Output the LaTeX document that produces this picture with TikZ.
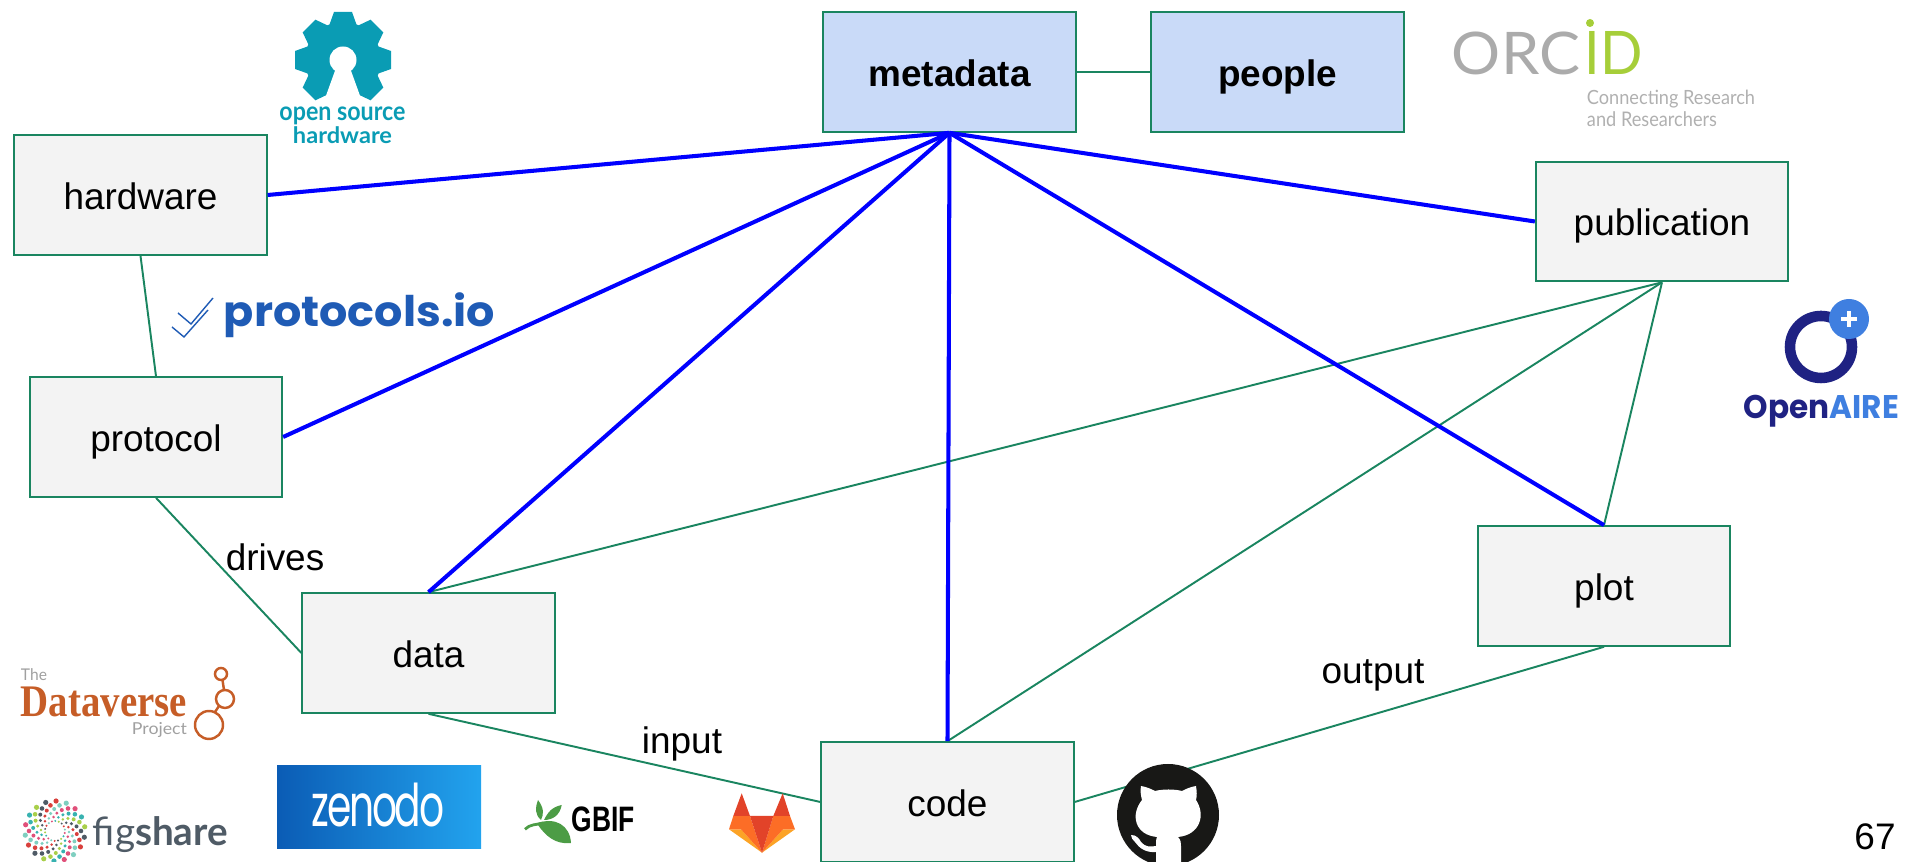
\documentclass[tikz,border=0pt]{standalone}
\usepackage{fontspec}
\usepackage{graphicx}
\setmainfont{Liberation Sans}
\newfontfamily\latof{Lato}
\newfontfamily\popf{Poppins}
\newfontfamily\serf{Liberation Serif}
\usetikzlibrary{shadings}
\newcommand{\lt}[3]{\resizebox*{\dimexpr #1cm/100\relax}{\dimexpr #2cm/100\relax}{#3}}
\definecolor{boxgreen}{HTML}{1A8560}
\definecolor{boxfill}{HTML}{F3F3F3}
\definecolor{metafill}{HTML}{C9DAF8}
\definecolor{linkblue}{HTML}{0000FF}
\definecolor{osh}{HTML}{0A9CB4}
\definecolor{proto}{HTML}{1F5BB5}
\definecolor{orcgray}{HTML}{ABABAB}
\definecolor{orcgreen}{HTML}{A6CE39}
\definecolor{orctext}{HTML}{B0B0B0}
\definecolor{navy}{HTML}{1F2283}
\definecolor{airblue}{HTML}{3F7FE0}
\definecolor{dvorange}{HTML}{C65D27}
\definecolor{dvgray}{HTML}{A0A0A0}
\definecolor{figgray}{HTML}{4F5B66}
\definecolor{fig0}{HTML}{E0507A}
\definecolor{fig1}{HTML}{38B2B0}
\definecolor{fig2}{HTML}{A8CF4A}
\definecolor{fig3}{HTML}{4F5B66}
\definecolor{fig4}{HTML}{D8403C}
\definecolor{fig5}{HTML}{7FCFC0}
\definecolor{gbifgreen}{HTML}{4C9C45}
\definecolor{glred}{HTML}{E24329}
\definecolor{glor}{HTML}{FC6D26}
\definecolor{glyel}{HTML}{FCA326}
\definecolor{ghblack}{HTML}{181816}
\definecolor{zenl}{HTML}{0B5CB5}
\definecolor{zenr}{HTML}{22A3EE}
\tikzset{
  box/.style={draw=boxgreen,line width=0.6pt,fill=boxfill,minimum width=2.52cm,minimum height=1.195cm,inner sep=0pt,text height=0.95em,text depth=0.15em,font=\fontsize{10.5}{12}\selectfont},
  metabox/.style={box,fill=metafill,font=\fontsize{10.5}{12}\selectfont\bfseries},
  thin link/.style={draw=boxgreen,line width=0.55pt},
  thick link/.style={draw=linkblue,line width=1.15pt},
  lab/.style={inner sep=0pt,font=\fontsize{10.5}{12}\selectfont},
  logo/.style={inner sep=0pt,outer sep=0pt}
}
\begin{document}
\begin{tikzpicture}[x=0.01cm,y=-0.01cm]
\useasboundingbox (0,0) rectangle (1905,862);
% boxes
\node[box] (hardware) at (140.5,195) {hardware};
\node[box] (protocol) at (156,437) {protocol};
\node[box] (data) at (428.5,653) {data};
\node[box] (code) at (947.5,802) {code};
\node[box] (plot) at (1604,586) {plot};
\node[box] (publication) at (1662,221.5) {publication};
\node[metabox] (metadata) at (949.5,72) {metadata};
\node[metabox] (people) at (1277.5,72) {people};
% green links
\draw[thin link] (metadata.east) -- (people.west);
\draw[thin link] (hardware.south) -- (protocol.north);
\draw[thin link] (protocol.south) -- (data.west);
\draw[thin link] (data.north) -- (publication.south);
\draw[thin link] (code.north) -- (publication.south);
\draw[thin link] (plot.north) -- (publication.south);
\draw[thin link] (data.south) -- (code.west);
\draw[thin link] (code.east) -- (plot.south);
% blue links
\draw[thick link] (metadata.south) -- (hardware.east);
\draw[thick link] (metadata.south) -- (protocol.east);
\draw[thick link] (metadata.south) -- (data.north);
\draw[thick link] (metadata.south) -- (code.north);
\draw[thick link] (metadata.south) -- (publication.west);
\draw[thick link] (metadata.south) -- (plot.north);
% labels
\node[lab] (drives) at (275,557) {drives};
\node[lab] (input) at (682,743.5) {input};
\node[lab] (output) at (1373,675.5) {output};
\node[lab] (pagenum) at (1875,837) {67};
% open source hardware
\foreach \a in {0,45,90,135,180,225,315}
  \fill[osh,rotate around={\a:(343,60)}] (377,46) -- (391,51) -- (391,69) -- (377,74) -- cycle;
\fill[osh] (343,60) circle (38);
\fill[white] (343,60) circle (13.5);
\fill[white] (336,68) -- (350,68) -- (363,104) -- (323,104) -- cycle;
\node[logo,text=osh] (osha) at (342.5,116) {\lt{126}{18}{\latof\bfseries open source}};
\node[logo,text=osh] (oshb) at (342.5,135) {\lt{99}{17}{\latof\bfseries hardware}};
% protocols.io
\node[logo,text=proto] (proto) at (359.5,315.5) {\lt{271}{45}{\popf\bfseries protocols.io}};
\draw[proto,line width=0.4pt] (178,313) -- (191,324) -- (213,298);
\draw[proto,line width=0.4pt] (172,327) -- (184,337) -- (208,310);
% ORCID
\node[logo,text=orcgray] (orc) at (1516,53.5) {\lt{128}{43}{\latof ORC}};
\node[logo,text=orcgreen] (orid) at (1614,53.5) {\lt{58}{43}{\latof ID}};
\fill[orcgreen] (1590,23) circle (4);
\node[logo,text=orctext] (orcta) at (1671,99) {\lt{168}{18}{\latof Connecting Research}};
\node[logo,text=orctext] (orctb) at (1652,119.5) {\lt{130}{15}{\latof and Researchers}};
% OpenAIRE
\draw[navy,line width=3pt] (1821,347) circle (31);
\fill[airblue] (1849,319) circle (20);
\draw[white,line width=1pt] (1841,319) -- (1857,319) (1849,311) -- (1849,327);
\node[logo] (oaire) at (1821.5,411) {\lt{155}{32}{\popf\bfseries\textcolor{navy}{Open}\textcolor{airblue}{AIRE}}};
% Dataverse
\node[logo,text=dvgray] (dvthe) at (34,675) {\lt{26}{12}{\latof The}};
\node[logo,text=dvorange] (dvname) at (104,702) {\lt{166}{30}{\serf\bfseries Dataverse}};
\node[logo,text=dvgray] (dvproj) at (159.5,730.5) {\lt{55}{15}{\latof Project}};
\draw[dvorange,line width=0.7pt] (221,674) circle (6) (225,699) circle (9) (209,725) circle (14);
\draw[dvorange,line width=0.7pt] (222.5,680) -- (224,690) (219,706) -- (215,712);
% figshare
\foreach \r [count=\i] in {10,14,18,22,26,30}
  \foreach \a in {0,...,17}{
    \pgfmathtruncatemacro\k{mod(\a,6)}
    \pgfmathsetmacro\ang{\a*20+\i*12}
    \pgfmathsetmacro\dotr{0.8+\i*0.3}
    \fill[fig\k] (55,831) ++(\ang:\r) circle (\dotr);
  }
\node[logo,text=figgray] (figs) at (160.5,835) {\lt{135}{36}{\latof fig\bfseries share}};
% zenodo
\shade[left color=zenl,right color=zenr] (277,766) rectangle (481,849);
\node[logo,text=white] (zen) at (378,805) {\lt{132}{44}{\popf\addfontfeature{LetterSpace=-6}zenodo}};
% GBIF
\fill[gbifgreen] (538,823) .. controls (555,817) and (570,825) .. (571,843) .. controls (555,845) and (545,835) .. (538,825) -- cycle;
\fill[gbifgreen] (541,820) .. controls (535,815) and (535,808) .. (538,800) .. controls (544,808) and (544,814) .. (541,820) -- cycle;
\fill[gbifgreen] (544,820) .. controls (548,812) and (552,807) .. (561.7,805) .. controls (560,815) and (553,820) .. (544,820) -- cycle;
\draw[gbifgreen,line width=0.8pt] (525,829.3) .. controls (530,824) and (536,825) .. (543,823);
\node[logo] (gbif) at (603,819.5) {\lt{63}{25}{\bfseries GBIF}};
% gitlab
\fill[glyel] (729,829.3) -- (741,829.3) -- (762,852.7) -- cycle;
\fill[glyel] (795,829.3) -- (783,829.3) -- (762,852.7) -- cycle;
\fill[glor] (733.3,816) -- (750,816) -- (762,852.7) -- (741,829.3) -- (729,829.3) -- cycle;
\fill[glor] (790,816) -- (773.3,816) -- (762,852.7) -- (783,829.3) -- (795,829.3) -- cycle;
\fill[glred] (762,852.7) -- (750,816) -- (773.3,816) -- cycle;
\fill[glred] (733.3,816) -- (741.7,793.3) -- (750,816) -- cycle;
\fill[glred] (773.3,816) -- (782.7,793.3) -- (790,816) -- cycle;
% github
\begin{scope}
\clip (0,0) rectangle (1905,862);
\fill[ghblack] (1168,815) circle (51);
\fill[white] (1141,786) .. controls (1147,787) and (1151,789) .. (1155,791) .. controls (1163,789) and (1174,789) .. (1182,791)
  .. controls (1186,789) and (1190,787) .. (1196,786) .. controls (1197,792) and (1197,796) .. (1196,800)
  .. controls (1206,815) and (1200,835) .. (1178,837) .. controls (1181,840) and (1181,843) .. (1181,846) -- (1181,865) -- (1156,865) -- (1156,852)
  .. controls (1146,853) and (1139,848) .. (1135,842) .. controls (1133,840) and (1131,838) .. (1131,835)
  .. controls (1136,835) and (1139,838) .. (1141,842) .. controls (1145,847) and (1150,847) .. (1156,846)
  -- (1156,841) .. controls (1156,839) and (1157,838) .. (1157,837)
  .. controls (1135,835) and (1130,815) .. (1142,800) .. controls (1141,796) and (1140,791) .. (1141,786) -- cycle;
\end{scope}
\end{tikzpicture}
\end{document}
